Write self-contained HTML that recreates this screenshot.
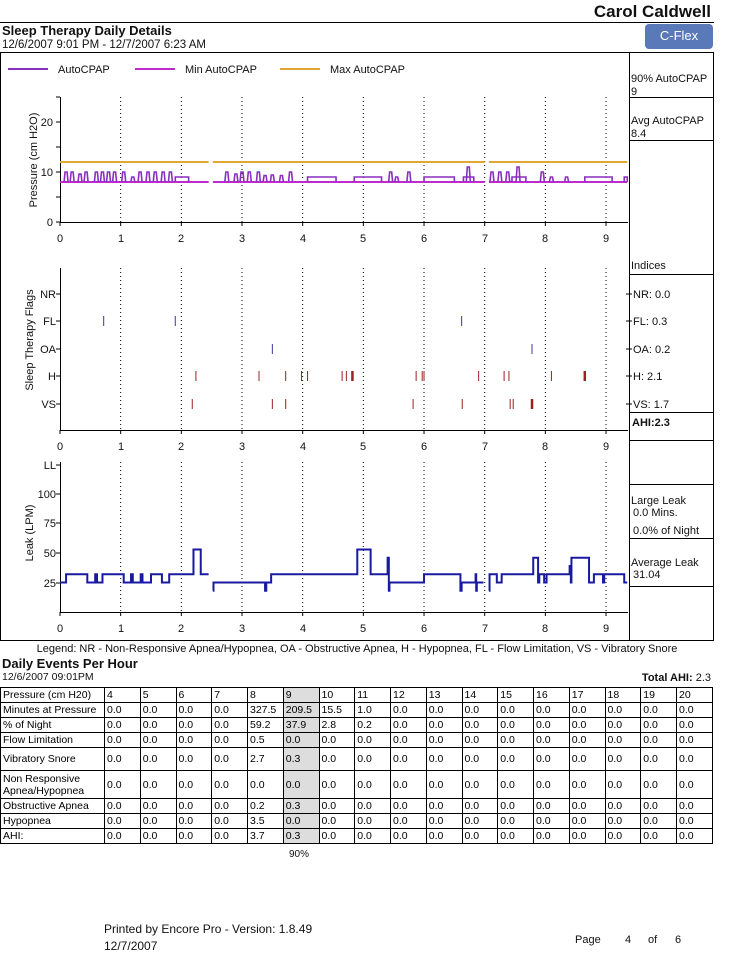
<!DOCTYPE html>
<html><head><meta charset="utf-8">
<style>
body{margin:0;background:#fff;width:740px;height:960px;overflow:hidden;position:relative;font-family:"Liberation Sans",sans-serif;}
svg{position:absolute;left:0;top:0}
text{font-family:"Liberation Sans",sans-serif;font-size:11px;fill:#111}
table{position:absolute;left:0;top:687px;border-collapse:collapse;font-size:10.5px;font-family:"Liberation Sans",sans-serif;table-layout:fixed;width:713px}
td{border:1px solid #000;padding:0 2px;line-height:12px;white-space:nowrap;overflow:hidden}
tr{height:15px}
td.s{background:#ddd}
</style></head><body>
<svg id="s" width="740" height="960" xmlns="http://www.w3.org/2000/svg">
<text x="711" y="17" text-anchor="end" style="font-size:17px;font-weight:bold">Carol Caldwell</text>
<line x1="0" y1="22.5" x2="714" y2="22.5" stroke="#000"/>
<text x="2" y="35" style="font-size:13px;font-weight:bold">Sleep Therapy Daily Details</text>
<text x="2" y="48" style="font-size:11.5px">12/6/2007 9:01 PM - 12/7/2007 6:23 AM</text>
<rect x="645" y="24" width="68" height="25" rx="4" fill="#5a79b8"/>
<text x="679" y="40" text-anchor="middle" style="font-size:13px;fill:#fff">C-Flex</text>
<rect x="0.5" y="52.5" width="713" height="588" fill="none" stroke="#000"/>
<line x1="629.5" y1="52" x2="629.5" y2="640" stroke="#000"/>
<line x1="629" y1="97.5" x2="714" y2="97.5" stroke="#000"/>
<line x1="629" y1="140.5" x2="714" y2="140.5" stroke="#000"/>
<text x="631" y="82">90% AutoCPAP</text><text x="631" y="95">9</text>
<text x="631" y="124">Avg AutoCPAP</text><text x="631" y="137">8.4</text>
<line x1="629" y1="274.5" x2="714" y2="274.5" stroke="#000"/>
<line x1="629" y1="412.5" x2="714" y2="412.5" stroke="#000"/>
<line x1="629" y1="440.5" x2="714" y2="440.5" stroke="#000"/>
<text x="631" y="269">Indices</text>
<text x="633" y="298">NR: 0.0</text><text x="633" y="325">FL: 0.3</text><text x="633" y="353">OA: 0.2</text><text x="633" y="380">H: 2.1</text><text x="633" y="408">VS: 1.7</text>
<text x="632" y="426" style="font-weight:bold">AHI:2.3</text>
<line x1="629" y1="484.5" x2="714" y2="484.5" stroke="#000"/>
<line x1="629" y1="538.5" x2="714" y2="538.5" stroke="#000"/>
<line x1="629" y1="586.5" x2="714" y2="586.5" stroke="#000"/>
<text x="631" y="504">Large Leak</text><text x="633" y="516">0.0 Mins.</text><text x="633" y="534">0.0% of Night</text>
<text x="631" y="566">Average Leak</text><text x="633" y="578">31.04</text>
<line x1="8" y1="69" x2="48" y2="69" stroke="#8a2fbf" stroke-width="2"/><text x="58" y="73">AutoCPAP</text>
<line x1="135" y1="69" x2="175" y2="69" stroke="#c02bd0" stroke-width="2"/><text x="185" y="73">Min AutoCPAP</text>
<line x1="280" y1="69" x2="320" y2="69" stroke="#e0a830" stroke-width="2"/><text x="330" y="73">Max AutoCPAP</text>
<text transform="translate(37,160) rotate(-90)" text-anchor="middle">Pressure (cm H2O)</text>
<text transform="translate(33,340) rotate(-90)" text-anchor="middle">Sleep Therapy Flags</text>
<text transform="translate(33,533) rotate(-90)" text-anchor="middle">Leak (LPM)</text>
<text x="53" y="226" text-anchor="end">0</text><text x="53" y="176" text-anchor="end">10</text><text x="53" y="126" text-anchor="end">20</text>
<text x="56" y="298" text-anchor="end">NR</text><text x="56" y="325" text-anchor="end">FL</text><text x="56" y="353" text-anchor="end">OA</text><text x="56" y="380" text-anchor="end">H</text><text x="56" y="408" text-anchor="end">VS</text>
<text x="56" y="469" text-anchor="end">LL</text><text x="56" y="498" text-anchor="end">100</text><text x="56" y="527" text-anchor="end">75</text><text x="56" y="557" text-anchor="end">50</text><text x="56" y="587" text-anchor="end">25</text>
<g text-anchor="middle">
<text x="60" y="242">0</text><text x="121" y="242">1</text><text x="181" y="242">2</text><text x="242" y="242">3</text><text x="303" y="242">4</text><text x="363" y="242">5</text><text x="424" y="242">6</text><text x="485" y="242">7</text><text x="545" y="242">8</text><text x="606" y="242">9</text>
<text x="60" y="450">0</text><text x="121" y="450">1</text><text x="181" y="450">2</text><text x="242" y="450">3</text><text x="303" y="450">4</text><text x="363" y="450">5</text><text x="424" y="450">6</text><text x="485" y="450">7</text><text x="545" y="450">8</text><text x="606" y="450">9</text>
<text x="60" y="632">0</text><text x="121" y="632">1</text><text x="181" y="632">2</text><text x="242" y="632">3</text><text x="303" y="632">4</text><text x="363" y="632">5</text><text x="424" y="632">6</text><text x="485" y="632">7</text><text x="545" y="632">8</text><text x="606" y="632">9</text>
</g>
<text x="357" y="652" text-anchor="middle">Legend: NR  - Non-Responsive Apnea/Hypopnea, OA - Obstructive Apnea, H - Hypopnea, FL - Flow Limitation, VS - Vibratory Snore</text>
<text x="2" y="668" style="font-size:13px;font-weight:bold">Daily Events Per Hour</text>
<text x="2" y="680" style="font-size:10.5px">12/6/2007 09:01PM</text>
<text x="711" y="681" text-anchor="end"><tspan style="font-weight:bold">Total AHI:</tspan> 2.3</text>
<text x="299" y="857" text-anchor="middle" style="font-size:10px">90%</text>
<text x="104" y="933" style="font-size:12px">Printed by Encore Pro - Version: 1.8.49</text>
<text x="104" y="950" style="font-size:12px">12/7/2007</text>
<text x="575" y="943">Page</text><text x="625" y="943">4</text><text x="648" y="943">of</text><text x="675" y="943">6</text>
<g id="g"></g>
</svg>
<table>
<colgroup><col style="width:104px"><col span="17"></colgroup>
<tr><td>Pressure (cm H20)</td><td>4</td><td>5</td><td>6</td><td>7</td><td>8</td><td class="s">9</td><td>10</td><td>11</td><td>12</td><td>13</td><td>14</td><td>15</td><td>16</td><td>17</td><td>18</td><td>19</td><td>20</td></tr>
<tr><td>Minutes at Pressure</td><td>0.0</td><td>0.0</td><td>0.0</td><td>0.0</td><td>327.5</td><td class="s">209.5</td><td>15.5</td><td>1.0</td><td>0.0</td><td>0.0</td><td>0.0</td><td>0.0</td><td>0.0</td><td>0.0</td><td>0.0</td><td>0.0</td><td>0.0</td></tr>
<tr><td>% of Night</td><td>0.0</td><td>0.0</td><td>0.0</td><td>0.0</td><td>59.2</td><td class="s">37.9</td><td>2.8</td><td>0.2</td><td>0.0</td><td>0.0</td><td>0.0</td><td>0.0</td><td>0.0</td><td>0.0</td><td>0.0</td><td>0.0</td><td>0.0</td></tr>
<tr><td>Flow Limitation</td><td>0.0</td><td>0.0</td><td>0.0</td><td>0.0</td><td>0.5</td><td class="s">0.0</td><td>0.0</td><td>0.0</td><td>0.0</td><td>0.0</td><td>0.0</td><td>0.0</td><td>0.0</td><td>0.0</td><td>0.0</td><td>0.0</td><td>0.0</td></tr>
<tr style="height:23px"><td>Vibratory Snore</td><td>0.0</td><td>0.0</td><td>0.0</td><td>0.0</td><td>2.7</td><td class="s">0.3</td><td>0.0</td><td>0.0</td><td>0.0</td><td>0.0</td><td>0.0</td><td>0.0</td><td>0.0</td><td>0.0</td><td>0.0</td><td>0.0</td><td>0.0</td></tr>
<tr style="height:28px"><td>Non Responsive<br>Apnea/Hypopnea</td><td>0.0</td><td>0.0</td><td>0.0</td><td>0.0</td><td>0.0</td><td class="s">0.0</td><td>0.0</td><td>0.0</td><td>0.0</td><td>0.0</td><td>0.0</td><td>0.0</td><td>0.0</td><td>0.0</td><td>0.0</td><td>0.0</td><td>0.0</td></tr>
<tr><td>Obstructive Apnea</td><td>0.0</td><td>0.0</td><td>0.0</td><td>0.0</td><td>0.2</td><td class="s">0.3</td><td>0.0</td><td>0.0</td><td>0.0</td><td>0.0</td><td>0.0</td><td>0.0</td><td>0.0</td><td>0.0</td><td>0.0</td><td>0.0</td><td>0.0</td></tr>
<tr><td>Hypopnea</td><td>0.0</td><td>0.0</td><td>0.0</td><td>0.0</td><td>3.5</td><td class="s">0.0</td><td>0.0</td><td>0.0</td><td>0.0</td><td>0.0</td><td>0.0</td><td>0.0</td><td>0.0</td><td>0.0</td><td>0.0</td><td>0.0</td><td>0.0</td></tr>
<tr><td>AHI:</td><td>0.0</td><td>0.0</td><td>0.0</td><td>0.0</td><td>3.7</td><td class="s">0.3</td><td>0.0</td><td>0.0</td><td>0.0</td><td>0.0</td><td>0.0</td><td>0.0</td><td>0.0</td><td>0.0</td><td>0.0</td><td>0.0</td><td>0.0</td></tr>
</table>
<script>
var g=document.getElementById('g'),o='';
function X(h){return 60+h*60.67;}
function L(x1,y1,x2,y2,c,w,d){o+='<line x1="'+x1+'" y1="'+y1+'" x2="'+x2+'" y2="'+y2+'" stroke="'+c+'" stroke-width="'+(w||1)+'"'+(d?' stroke-dasharray="'+d+'"':'')+'/>';}
[[97,222],[268,430],[462,612]].forEach(function(a){
 L(60.5,a[0],60.5,a[1],'#000');L(60,a[1]+0.5,628,a[1]+0.5,'#000');
 for(var i=1;i<=9;i++){L(X(i),a[0],X(i),a[1],'#000',1,'1,3');}
 for(var i=0;i<=9;i++){L(X(i),a[1],X(i),a[1]+4,'#000');}
});
[97,122,147,172,197,222].forEach(function(y){L(56,y,60,y,'#000');});
[294,321,349,376,404].forEach(function(y){L(56,y,60,y,'#000');L(626,y,632,y,'#000');});
[465,494,523,553,583].forEach(function(y){L(56,y,60,y,'#000');});
function P(v){return 222-v*5;}
[[0,2.45],[2.52,7],[7.07,9.35]].forEach(function(s){
 L(X(s[0]),P(12),X(s[1]),P(12),'#e0a830',2);
 L(X(s[0]),P(8),X(s[1]),P(8),'#c02bd0',2);
});
var sp=[[0.1,10],[0.2,10],[0.33,9.6],[0.43,10],[0.6,10],[0.7,10],[0.8,10],[0.9,10],[1.05,10],[1.2,9],[1.32,10],[1.45,10],[1.57,10],[1.7,10],[1.82,10],
[2.75,10],[2.9,9.6],[3.0,10],[3.12,10],[3.27,10],[3.38,9.3],[3.5,9.4],[3.65,9.3],[3.8,10],[5.45,10],[5.55,9],[5.75,10],[6.73,11],
[7.12,10],[7.25,10],[7.38,10],[7.55,11],[7.95,10],[8.1,9],[8.35,9]];
var pc='#8a2fbf';
sp.forEach(function(s){var x=X(s[0]);o+='<path d="M'+(x-2)+' '+P(8)+'L'+(x-1)+' '+P(s[1])+'L'+(x+1)+' '+P(s[1])+'L'+(x+2)+' '+P(8)+'" fill="none" stroke="'+pc+'" stroke-width="1.6"/>';});
[[1.9,2.12],[4.08,4.55],[4.85,5.3],[6.0,6.5],[6.65,6.82],[7.45,7.68],[8.65,9.1],[9.3,9.35]].forEach(function(b){
 o+='<path d="M'+X(b[0])+' '+P(8)+'V'+P(9)+'H'+X(b[1])+'V'+P(8)+'" fill="none" stroke="'+pc+'" stroke-width="1.6"/>';});
var red='#9b2020',blu='#3a3a90';
function F(list,y,c){list.forEach(function(h){var w=1,t=h;if(h<0){t=-h;w=2.5;}L(X(t),y-5,X(t),y+5,c,w);});}
F([0.72,1.9,6.62],321,blu);F([3.5,7.78],349,blu);
F([2.24,3.28,3.72,3.98,4.08,4.65,4.72,-4.82,5.87,5.97,6.0,6.9,7.32,7.4,8.1,-8.65],376,red);
F([2.18,3.5,3.72,5.82,6.63,7.42,7.47,-7.78],404,red);
function Y(v){return 612-v*1.18;}
var segs=[
[[0,25],[0.1,32],[0.45,25],[0.58,32],[0.61,25],[0.7,32],[1.05,25],[1.17,32],[1.2,25],[1.33,32],[1.36,25],[1.5,32],[1.68,25],[1.8,32],[2.2,53],[2.32,32],[2.45,32]],
[[2.52,18],[2.53,25],[3.38,18],[3.4,25],[3.48,32],[4.9,53],[5.12,32],[5.4,46],[5.42,18],[5.43,25],[6.0,32],[6.6,18],[6.62,25],[6.85,32],[6.86,18],[6.87,25],[6.98,25]],
[[7.07,18],[7.08,32],[7.2,25],[7.28,32],[7.8,46],[7.88,25],[7.9,32],[7.98,25],[8.02,32],[8.4,39],[8.42,25],[8.43,46],[8.72,25],[8.8,32],[8.95,25],[8.97,32],[9.3,25],[9.35,25]]];
segs.forEach(function(s){var d='M'+X(s[0][0])+' '+Y(s[0][1]);for(var i=1;i<s.length;i++){d+='H'+X(s[i][0])+'V'+Y(s[i][1]);}
 o+='<path d="'+d+'" fill="none" stroke="#1a1aa0" stroke-width="2"/>';});
g.innerHTML=o;
</script>
</body></html>
